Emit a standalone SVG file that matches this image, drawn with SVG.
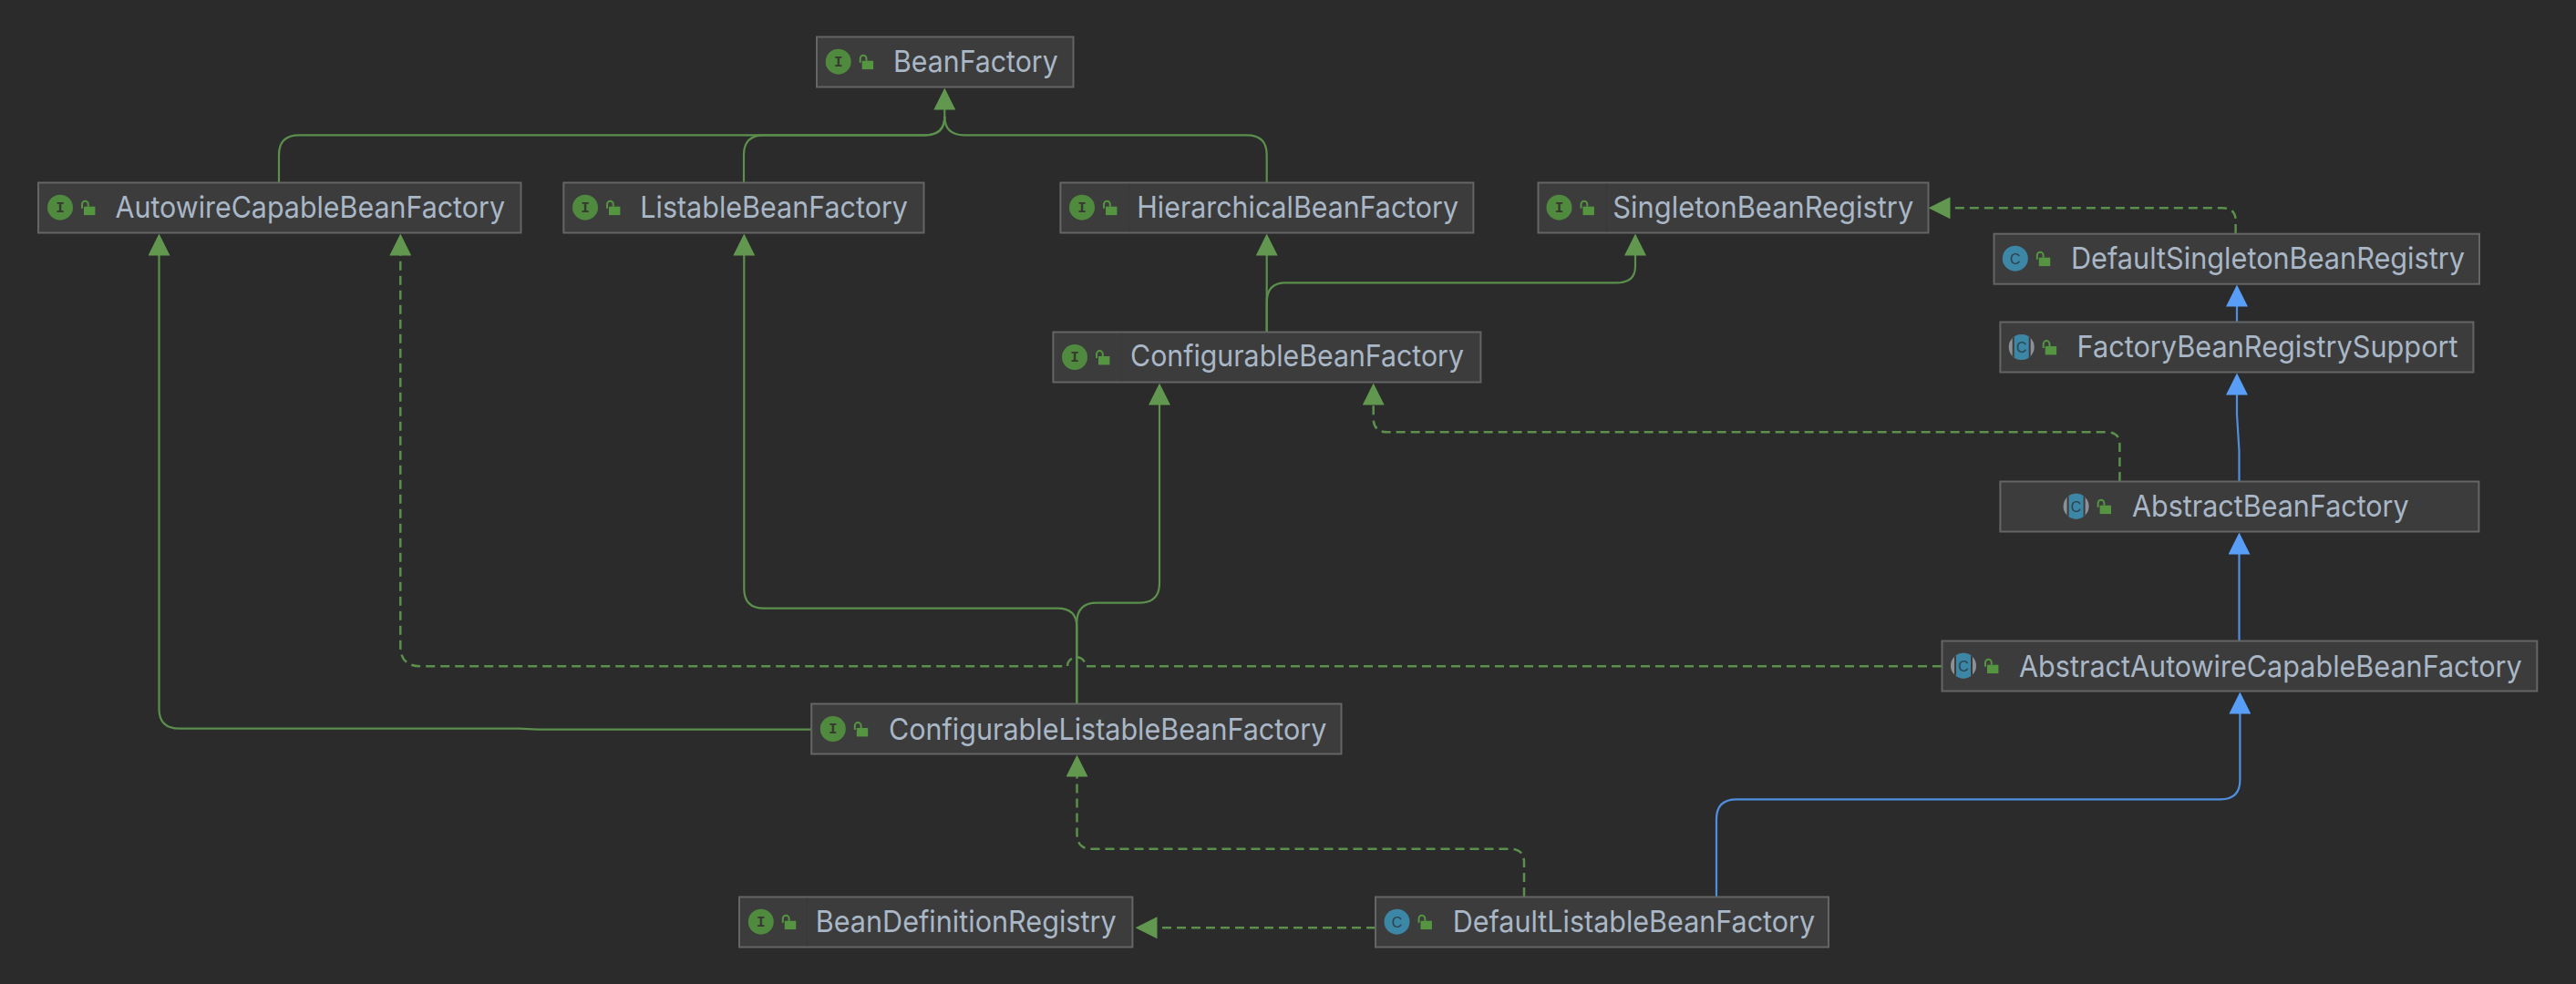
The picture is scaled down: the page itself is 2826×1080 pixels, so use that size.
<svg xmlns="http://www.w3.org/2000/svg" width="2826" height="1080" viewBox="0 0 2826 1080">
<style>
.box{fill:#3c3c3c;stroke:#646565;stroke-width:2}
.sep{stroke:#393a3a;stroke-width:1.5}
.lbl{font-family:"Inter","Liberation Sans",sans-serif;font-size:33px;fill:#a9b7c6}
.gi{font-family:"Liberation Mono",monospace;font-size:16px;font-weight:bold;fill:#37392f;text-anchor:middle}
.gc{font-family:"Liberation Sans",sans-serif;font-size:16px;fill:#2c4250;text-anchor:middle}
.g{fill:none;stroke:#5b8f4c;stroke-width:2.2}
.d{stroke-dasharray:10 6;stroke-width:2.5}
.b{fill:none;stroke:#4f8fe0;stroke-width:2.2}
</style>
<defs>
<marker id="ag" markerUnits="userSpaceOnUse" markerWidth="24" markerHeight="24" viewBox="0 0 24 24" refX="0.5" refY="12" orient="auto"><path d="M0 0L24 12L0 24z" fill="#629750"/></marker>
<marker id="ab" markerUnits="userSpaceOnUse" markerWidth="24" markerHeight="24" viewBox="0 0 24 24" refX="0.5" refY="12" orient="auto"><path d="M0 0L24 12L0 24z" fill="#589df6"/></marker>
<clipPath id="cc"><circle r="14"/></clipPath>
<g id="lock"><rect x="26" y="-1" width="12.4" height="9.4" fill="#559441"/><path d="M24 1V-3.5a3.4 3.4 0 0 1 6.8 0V-1" fill="none" stroke="#559441" stroke-width="2"/></g>
<g id="ici"><circle r="14" fill="#4f8a3e"/><use href="#lock"/></g>
<g id="icc"><circle r="14" fill="#3d87a6"/><use href="#lock"/></g>
<g id="ica"><g clip-path="url(#cc)"><rect x="-15" y="-15" width="30" height="30" fill="#8b9196"/><rect x="-10" y="-15" width="20" height="30" fill="#3c3c3c"/><rect x="-8" y="-15" width="16" height="30" fill="#3d87a6"/></g><use href="#lock"/></g>
</defs>
<rect width="2826" height="1080" fill="#2b2b2b"/>
<g id="connectors">
<path class="g" marker-end="url(#ag)" d="M306 200V170Q306 148.3 328 148.3H1015Q1036.3 148.3 1036.3 128V120"/>
<path class="g" d="M816 200V170Q816 148.3 838 148.3H1015Q1036.3 148.3 1036.3 128"/>
<path class="g" d="M1389.7 200V170Q1389.7 148.3 1368 148.3H1058Q1036.3 148.3 1036.3 128"/>
<path class="g" marker-end="url(#ag)" d="M1389.7 364V280"/>
<path class="g" marker-end="url(#ag)" d="M1389.7 364V332Q1389.7 310.3 1410 310.3H1774Q1794 310.3 1794 292V280"/>
<path class="g" marker-end="url(#ag)" d="M1181.3 772V684Q1181.3 661.7 1203 661.7H1250Q1272 661.7 1272 640V444"/>
<path class="g" marker-end="url(#ag)" d="M1181.3 772V688Q1181.3 667.7 1160 667.7H838Q816.3 667.7 816.3 646V280"/>
<path class="g" marker-end="url(#ag)" d="M890 800.7H590L569 799.7H197Q174.5 799.7 174.5 778V280"/>
<path class="g d" marker-end="url(#ag)" d="M2130 731.3H1191A10 10 0 0 0 1171 731.3H462Q439.3 731.3 439.3 710V280"/>
<path class="g d" marker-end="url(#ag)" d="M2452.6 256V242Q2452.6 228.3 2438 228.3H2139"/>
<path class="g d" marker-end="url(#ag)" d="M2325.4 528V488Q2325.4 474.3 2311 474.3H1522Q1506.7 474.3 1506.7 459V444"/>
<path class="g d" marker-end="url(#ag)" d="M1672 984V947Q1672 931.7 1657 931.7H1197Q1181.5 931.7 1181.5 915V852"/>
<path class="g d" marker-end="url(#ag)" d="M1509 1018.3H1269"/>
<path class="b" marker-end="url(#ab)" d="M2454 353V336"/>
<path class="b" marker-end="url(#ab)" d="M2456.5 528V495L2454 455V433"/>
<path class="b" marker-end="url(#ab)" d="M2456.5 703V608"/>
<path class="b" marker-end="url(#ab)" d="M1883 984V899Q1883 877.3 1905 877.3H2436Q2457.4 877.3 2457.4 856V783"/>
</g>
<g id="BeanFactory"><rect class="box" x="896" y="40.5" width="281.5" height="55"/><use href="#ici" x="919.7" y="67.7"/><text class="gi" x="919.7" y="73">I</text><text class="lbl" x="980" y="79.3" textLength="180.7" lengthAdjust="spacingAndGlyphs">BeanFactory</text></g>
<g id="AutowireCapableBeanFactory"><rect class="box" x="42" y="200.5" width="529.5" height="55"/><use href="#ici" x="66" y="227.7"/><text class="gi" x="66" y="233">I</text><text class="lbl" x="126.5" y="239.3" textLength="427.5" lengthAdjust="spacingAndGlyphs">AutowireCapableBeanFactory</text></g>
<g id="ListableBeanFactory"><rect class="box" x="618.3" y="200.5" width="395.2" height="55"/><use href="#ici" x="642" y="227.7"/><text class="gi" x="642" y="233">I</text><text class="lbl" x="702.3" y="239.3" textLength="293.7" lengthAdjust="spacingAndGlyphs">ListableBeanFactory</text></g>
<g id="HierarchicalBeanFactory"><rect class="box" x="1163.4" y="200.5" width="453" height="55"/><path class="sep" d="M1238.7 201.5V254.5"/><use href="#ici" x="1187" y="227.7"/><text class="gi" x="1187" y="233">I</text><text class="lbl" x="1247.3" y="239.3" textLength="352.7" lengthAdjust="spacingAndGlyphs">HierarchicalBeanFactory</text></g>
<g id="SingletonBeanRegistry"><rect class="box" x="1687.5" y="200.5" width="428" height="55"/><path class="sep" d="M1762.5 201.5V254.5"/><use href="#ici" x="1710.5" y="227.7"/><text class="gi" x="1710.5" y="233">I</text><text class="lbl" x="1769.3" y="239.3" textLength="330" lengthAdjust="spacingAndGlyphs">SingletonBeanRegistry</text></g>
<g id="DefaultSingletonBeanRegistry"><rect class="box" x="2187.5" y="256.7" width="532.5" height="55"/><use href="#icc" x="2210.8" y="283.7"/><text class="gc" x="2210.8" y="289.5">C</text><text class="lbl" x="2272" y="295" textLength="432" lengthAdjust="spacingAndGlyphs">DefaultSingletonBeanRegistry</text></g>
<g id="FactoryBeanRegistrySupport"><rect class="box" x="2194.4" y="353.5" width="519" height="55"/><use href="#ica" x="2217.7" y="381"/><text class="gc" x="2217.7" y="386.8">C</text><text class="lbl" x="2278.6" y="392" textLength="418" lengthAdjust="spacingAndGlyphs">FactoryBeanRegistrySupport</text></g>
<g id="ConfigurableBeanFactory"><rect class="box" x="1155.4" y="364.5" width="469" height="55"/><path class="sep" d="M1230 365.5V418.5"/><use href="#ici" x="1179" y="392"/><text class="gi" x="1179" y="397.3">I</text><text class="lbl" x="1240" y="402.3" textLength="366" lengthAdjust="spacingAndGlyphs">ConfigurableBeanFactory</text></g>
<g id="AbstractBeanFactory"><rect class="box" x="2194.4" y="528.5" width="525" height="55"/><use href="#ica" x="2277.6" y="555.7"/><text class="gc" x="2277.6" y="561.5">C</text><text class="lbl" x="2339" y="567" textLength="303.7" lengthAdjust="spacingAndGlyphs">AbstractBeanFactory</text></g>
<g id="AbstractAutowireCapableBeanFactory"><rect class="box" x="2130.5" y="703.5" width="652.8" height="55"/><use href="#ica" x="2154" y="730.7"/><text class="gc" x="2154" y="736.5">C</text><text class="lbl" x="2215" y="742.5" textLength="551.7" lengthAdjust="spacingAndGlyphs">AbstractAutowireCapableBeanFactory</text></g>
<g id="ConfigurableListableBeanFactory"><rect class="box" x="890.2" y="772.5" width="581.3" height="55"/><use href="#ici" x="913.8" y="800"/><text class="gi" x="913.8" y="805.3">I</text><text class="lbl" x="975" y="811.5" textLength="480.3" lengthAdjust="spacingAndGlyphs">ConfigurableListableBeanFactory</text></g>
<g id="BeanDefinitionRegistry"><rect class="box" x="811" y="984.5" width="431.4" height="55"/><path class="sep" d="M885 985.5V1038.5"/><use href="#ici" x="834.8" y="1011.7"/><text class="gi" x="834.8" y="1017">I</text><text class="lbl" x="894.7" y="1023.3" textLength="330" lengthAdjust="spacingAndGlyphs">BeanDefinitionRegistry</text></g>
<g id="DefaultListableBeanFactory"><rect class="box" x="1509" y="984.5" width="497" height="55"/><use href="#icc" x="1532.5" y="1011.7"/><text class="gc" x="1532.5" y="1017.5">C</text><text class="lbl" x="1593.7" y="1023.3" textLength="397.5" lengthAdjust="spacingAndGlyphs">DefaultListableBeanFactory</text></g>
</svg>
